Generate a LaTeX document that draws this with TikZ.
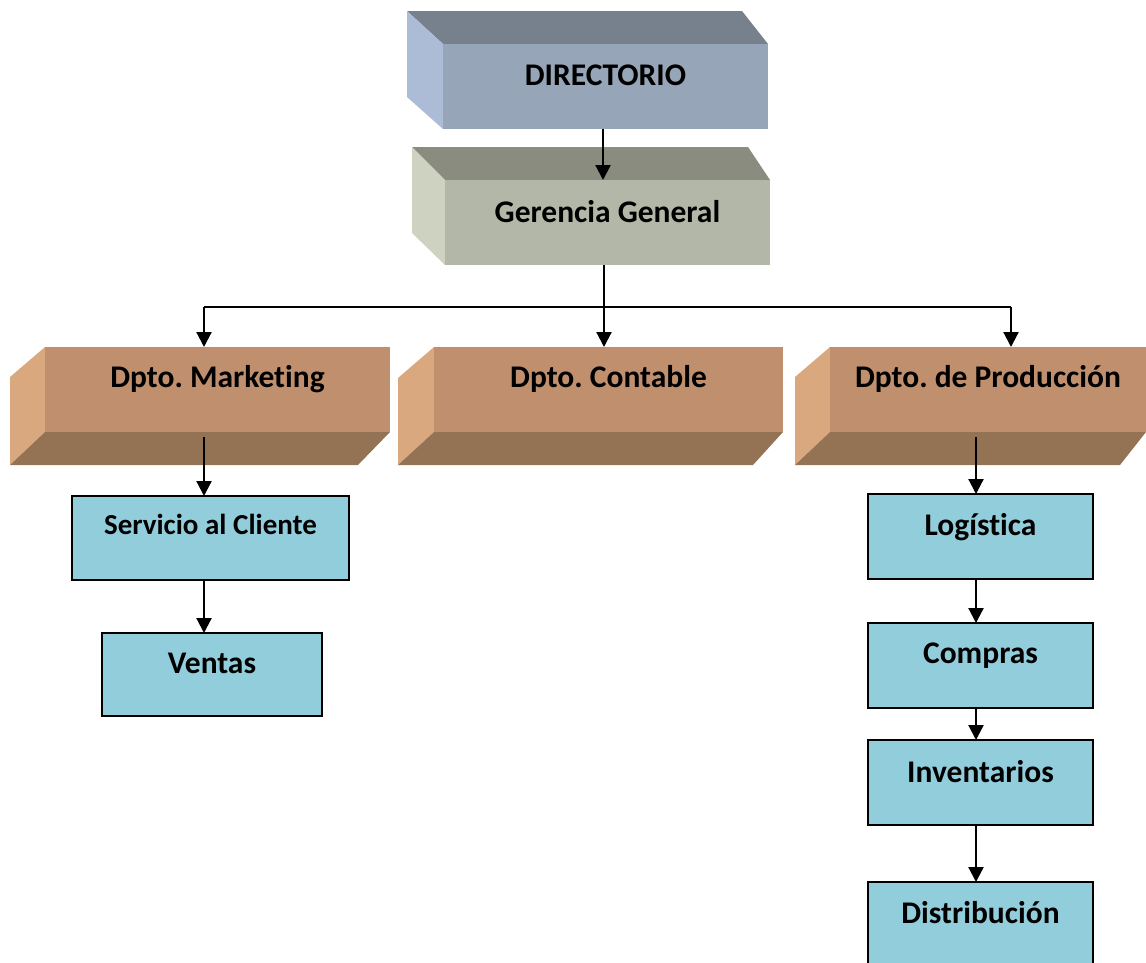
\documentclass[tikz,border=0pt]{standalone}
\usepackage{fontspec}
\setmainfont[RawFeature={-liga;-clig;-dlig}]{Carlito}
\frenchspacing
\usetikzlibrary{arrows.meta,calc}
\definecolor{dirfront}{RGB}{151,165,184}
\definecolor{dirtop}{RGB}{119,128,141}
\definecolor{dirleft}{RGB}{172,188,214}
\definecolor{ggfront}{RGB}{178,183,168}
\definecolor{ggtop}{RGB}{138,140,128}
\definecolor{ggleft}{RGB}{205,211,192}
\definecolor{dpfront}{RGB}{192,143,109}
\definecolor{dpbottom}{RGB}{148,115,85}
\definecolor{dpleft}{RGB}{217,168,126}
\definecolor{bluebox}{RGB}{146,205,220}
\tikzset{
  face/.style={inner sep=0pt, outer sep=0pt, draw=none},
  subbox/.style={inner sep=0pt, outer sep=0pt, draw=black, line width=1.8pt, fill=bluebox},
  lbl/.style={anchor=base, inner sep=0pt, font=\fontsize{31.5}{36}\selectfont\bfseries},
  lblsmall/.style={anchor=base, inner sep=0pt, font=\fontsize{29}{34}\selectfont\bfseries},
  conn/.style={line width=2.2pt, draw=black},
  arr/.style={conn, -{Triangle[length=15pt,width=15pt]}},
}
\begin{document}
\begin{tikzpicture}[x=1pt,y=-1pt]
\useasboundingbox (0,0) rectangle (1146,962);
% DIRECTORIO
\fill[dirtop] (407,11) -- (742,11) -- (768,44) -- (443,44) -- cycle;
\fill[dirleft] (407,11) -- (443,44) -- (443,129) -- (407,97) -- cycle;
\node[face, fill=dirfront, minimum width=325pt, minimum height=85pt] (dir) at (605.5,86.5) {};
\node[lbl] (dirt) at (605.5,85) {DIRECTORIO};
% Gerencia General
\fill[ggtop] (412,147) -- (748,147) -- (770,180) -- (445,180) -- cycle;
\fill[ggleft] (412,147) -- (445,180) -- (445,265) -- (412,233) -- cycle;
\node[face, fill=ggfront, minimum width=325pt, minimum height=85pt] (gg) at (607.5,222.5) {};
\node[lbl] (ggt) at (607.5,222) {Gerencia General};
% Dpto. Marketing
\fill[dpleft] (10,377) -- (45,347) -- (45,432) -- (10,465) -- cycle;
\fill[dpbottom] (45,432) -- (390,432) -- (358,465) -- (10,465) -- cycle;
\node[face, fill=dpfront, minimum width=345pt, minimum height=85pt] (mk) at (217.5,389.5) {};
\node[lbl] (mkt) at (217.5,387) {Dpto. Marketing};
% Dpto. Contable
\fill[dpleft] (398,378) -- (434,347) -- (434,432) -- (398,465) -- cycle;
\fill[dpbottom] (434,432) -- (783,432) -- (753,465) -- (398,465) -- cycle;
\node[face, fill=dpfront, minimum width=349pt, minimum height=85pt] (ct) at (608.5,389.5) {};
\node[lbl] (ctt) at (608.5,387) {Dpto. Contable};
% Dpto. de Produccion
\fill[dpleft] (795,377) -- (830,347) -- (830,432) -- (795,465) -- cycle;
\fill[dpbottom] (830,432) -- (1146,432) -- (1120,465) -- (795,465) -- cycle;
\node[face, fill=dpfront, minimum width=316pt, minimum height=85pt] (pd) at (988,389.5) {};
\node[lbl] (pdt) at (988,387) {Dpto. de Producción};
% blue boxes
\node[subbox, minimum width=277pt, minimum height=84pt] (sc) at (210.5,538) {};
\node[lblsmall] (sct) at (210.5,534) {Servicio al Cliente};
\node[subbox, minimum width=220pt, minimum height=83pt] (vt) at (212,674.5) {};
\node[lbl] (vtt) at (212,673) {Ventas};
\node[subbox, minimum width=225pt, minimum height=85pt] (lg) at (980.5,536.5) {};
\node[lbl] (lgt) at (980.5,535) {Logística};
\node[subbox, minimum width=225pt, minimum height=85pt] (cp) at (980.5,665.5) {};
\node[lbl] (cpt) at (980.5,663) {Compras};
\node[subbox, minimum width=225pt, minimum height=85pt] (iv) at (980.5,782.5) {};
\node[lbl] (ivt) at (980.5,782) {Inventarios};
\node[subbox, minimum width=225pt, minimum height=85pt] (ds) at (980.5,924.5) {};
\node[lbl] (dst) at (980.5,923) {Distribución};
% connectors
\coordinate (c1) at (603,129);
\draw[arr] (c1) -- (c1 |- gg.north);
\coordinate (jg) at (604,307);
\coordinate (jm) at (204,307);
\coordinate (jp) at (1011,307);
\draw[conn] (jg |- gg.south) -- (jg);
\draw[conn] (jm) -- (jp);
\draw[arr] (jm) -- (jm |- mk.north);
\draw[arr] (jg) -- (jg |- ct.north);
\draw[arr] (jp) -- (jp |- pd.north);
\coordinate (jm2) at (204,437);
\draw[arr] (jm2) -- (jm2 |- sc.north);
\draw[arr] (jm2 |- sc.south) -- (jm2 |- vt.north);
\coordinate (jp2) at (976,437);
\draw[arr] (jp2) -- (jp2 |- lg.north);
\draw[arr] (jp2 |- lg.south) -- (jp2 |- cp.north);
\draw[arr] (jp2 |- cp.south) -- (jp2 |- iv.north);
\draw[arr] (jp2 |- iv.south) -- (jp2 |- ds.north);
\end{tikzpicture}
\end{document}
